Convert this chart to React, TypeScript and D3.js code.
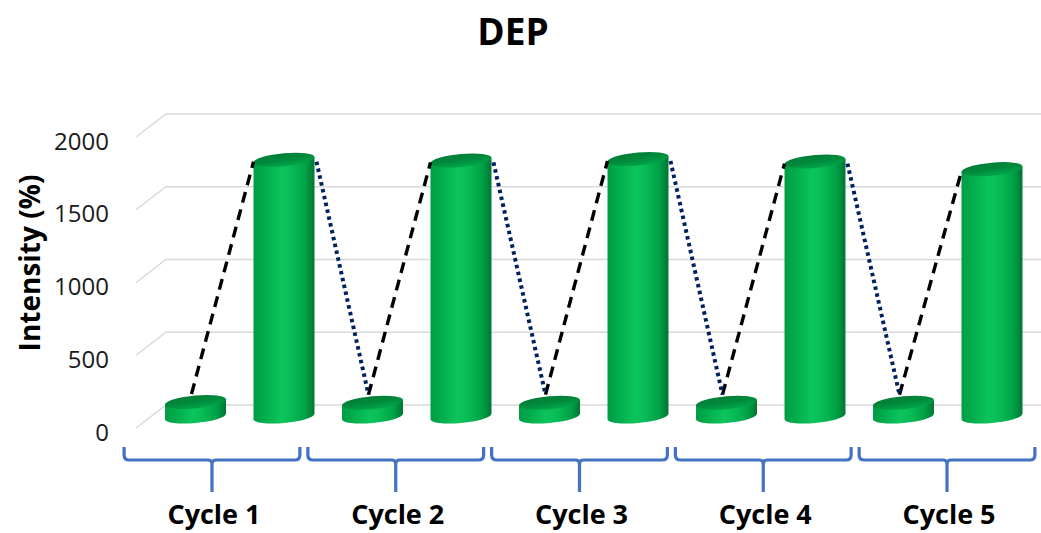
import React from "react";
import * as d3 from "d3";

// Chart data
const cycles = ["Cycle 1", "Cycle 2", "Cycle 3", "Cycle 4", "Cycle 5"];
const lowValues = [100, 95, 95, 95, 95];
const highValues = [1765, 1760, 1770, 1752, 1700];
const yTicks = [0, 500, 1000, 1500, 2000];
const chartTitle = "DEP";
const yTitle = "Intensity (%)";

const W = 1041;
const H = 533;
const FONT = "'Open Sans', 'DejaVu Sans', sans-serif";

// Depth planes of the 3D plot: back wall, bar mid-depth, front edge
const yBack = d3.scaleLinear().domain([0, 2000]).range([405, 114]);
const yBar = d3.scaleLinear().domain([0, 2000]).range([416.5, 125.5]);
const yFront = d3.scaleLinear().domain([0, 2000]).range([428, 137]);
const backLeft = 166;
const frontLeft = 136;

// One cylinder per value, two per cycle
const barKeys = cycles.flatMap((c) => [`${c}-low`, `${c}-high`]);
const xBar = d3
  .scaleBand<string>()
  .domain(barKeys)
  .range([151.25, 1036.25])
  .paddingInner(0.311)
  .paddingOuter(0.1555);

// Category brackets along the floor
const xCat = d3.scaleBand<string>().domain(cycles).range([120.1, 1038.9]).padding(0);

const RY = 6.5;
const SKEW = -5;

function Cylinder({ cx, value }: { cx: number; value: number }) {
  const r = xBar.bandwidth() / 2;
  const base = yBar(0);
  const top = yBar(value);
  const body = `M${-r},${top} L${-r},${base} A${r},${RY} 0 0 0 ${r},${base} L${r},${top} Z`;
  return (
    <g transform={`translate(${cx},0) skewY(${SKEW})`}>
      <path d={body} fill="url(#cylBody)" />
      <ellipse cx={0} cy={top} rx={r} ry={RY} fill="url(#cylTop)" />
    </g>
  );
}

function Bracket({ cycle }: { cycle: string }) {
  const x0 = (xCat(cycle) as number) + 4;
  const x1 = (xCat(cycle) as number) + xCat.bandwidth() - 4;
  const cx = (x0 + x1) / 2;
  const yT = 447;
  const yH = 460;
  const yB = 492;
  const d =
    `M${x0},${yT} V${yH - 5} Q${x0},${yH} ${x0 + 5},${yH} H${cx - 4} Q${cx},${yH} ${cx},${yH + 4} V${yB} ` +
    `M${cx},${yH + 4} Q${cx},${yH} ${cx + 4},${yH} H${x1 - 5} Q${x1},${yH} ${x1},${yH - 5} V${yT}`;
  return <path d={d} fill="none" stroke="#4472c4" strokeWidth={3.2} strokeLinejoin="round" />;
}

export default function App() {
  const r = xBar.bandwidth() / 2;
  const center = (k: string) => (xBar(k) as number) + r;

  // Connector lines: rise (dashed) and fall (dotted)
  const rises = cycles.map((c, i) => ({
    x1: center(`${c}-low`) - 4,
    y1: yBar(lowValues[i]) - 8,
    x2: center(`${c}-high`) - r,
    y2: yBar(highValues[i]) + 2,
  }));
  const falls = cycles.slice(1).map((c, i) => ({
    x1: center(`${cycles[i]}-high`) + r + 2,
    y1: yBar(highValues[i]) + 2,
    x2: center(`${c}-low`) - 4,
    y2: yBar(lowValues[i + 1]) - 8,
  }));

  return (
    <svg width={W} height={H} style={{ display: "block", position: "absolute", left: 0, top: 0 }}>
      <defs>
        <linearGradient id="cylBody" x1="0" x2="1" y1="0" y2="0">
          <stop offset="0" stopColor="#009c44" />
          <stop offset="0.18" stopColor="#00ad4d" />
          <stop offset="0.45" stopColor="#0cc45c" />
          <stop offset="0.6" stopColor="#08bd57" />
          <stop offset="0.85" stopColor="#00a146" />
          <stop offset="1" stopColor="#007532" />
        </linearGradient>
        <linearGradient id="cylTop" x1="0" x2="0.3" y1="0" y2="1">
          <stop offset="0" stopColor="#007b35" />
          <stop offset="0.6" stopColor="#008a3c" />
          <stop offset="1" stopColor="#00a247" />
        </linearGradient>
      </defs>
      <rect x={0} y={0} width={W} height={H} fill="#ffffff" />

      {/* Title */}
      <text x={513} y={45} textAnchor="middle" fontFamily={FONT} fontWeight="bold" fontSize={37} fill="#000">
        {chartTitle}
      </text>

      {/* Gridlines on the back wall and side wall */}
      <g stroke="#d9d9d9" strokeWidth={1.5} fill="none">
        {yTicks.map((t) => (
          <polyline key={t} points={`${frontLeft},${yFront(t)} ${backLeft},${yBack(t)} ${W},${yBack(t)}`} />
        ))}
      </g>

      {/* Y tick labels */}
      <g fontFamily={FONT} fontSize={24} fill="#1a1a1a" textAnchor="end">
        {yTicks.map((t) => (
          <text key={t} x={109} y={yFront(t) + 3} dominantBaseline="central">
            {t}
          </text>
        ))}
      </g>

      {/* Y axis title */}
      <text
        transform="translate(29,263) rotate(-90)"
        textAnchor="middle"
        dominantBaseline="central"
        fontFamily={FONT}
        fontWeight="bold"
        fontSize={28}
        fill="#000"
      >
        {yTitle}
      </text>

      {/* Cylinders */}
      {cycles.map((c, i) => (
        <g key={c}>
          <Cylinder cx={center(`${c}-low`)} value={lowValues[i]} />
          <Cylinder cx={center(`${c}-high`)} value={highValues[i]} />
        </g>
      ))}

      {/* Connectors */}
      <g fill="none">
        {rises.map((l, i) => (
          <line key={`r${i}`} {...l} stroke="#000" strokeWidth={3.4} strokeDasharray="11 7" />
        ))}
        {falls.map((l, i) => (
          <line key={`f${i}`} {...l} stroke="#002060" strokeWidth={4} strokeDasharray="3.5 3.5" />
        ))}
      </g>

      {/* Category brackets and labels */}
      {cycles.map((c) => (
        <g key={c}>
          <Bracket cycle={c} />
          <text
            x={(xCat(c) as number) + xCat.bandwidth() / 2 + 2}
            y={524}
            textAnchor="middle"
            fontFamily={FONT}
            fontWeight="bold"
            fontSize={27}
            fill="#000"
          >
            {c}
          </text>
        </g>
      ))}
    </svg>
  );
}
